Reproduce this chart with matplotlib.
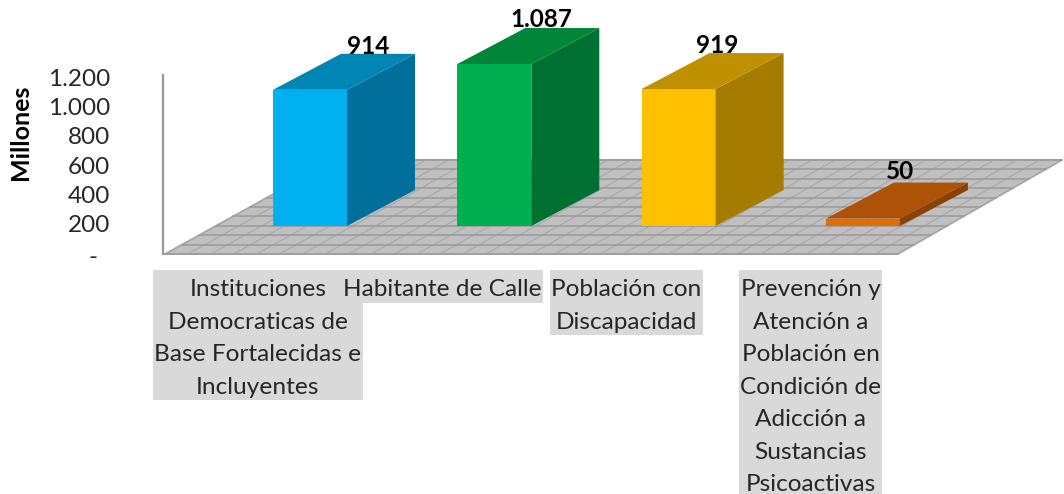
import matplotlib
matplotlib.use('Agg')
import matplotlib.pyplot as plt
import numpy as np
from matplotlib.patches import Polygon, Rectangle
from matplotlib.transforms import ScaledTranslation

plt.rcParams['font.family'] = ['Lato', 'DejaVu Sans']

# Values, in millions
categories = [
    'Instituciones\nDemocraticas de\nBase Fortalecidas e\nIncluyentes',
    'Habitante de Calle',
    'Población con\nDiscapacidad',
    'Prevención y\nAtención a\nPoblación en\nCondición de\nAdicción a\nSustancias\nPsicoactivas',
]
values = [914, 1087, 919, 50]
value_labels = ['914', '1.087', '919', '50']
y_ticks = [0, 200, 400, 600, 800, 1000, 1200]
y_tick_labels = ['-', '200', '400', '600', '800', '1.000', '1.200']

front_colors = ['#00B0F0', '#00B050', '#FFC000', '#E36C09']
side_colors = ['#006F9B', '#006F32', '#A67C00', '#8A4102']
top_colors = ['#0085B5', '#008539', '#BF9000', '#AE5207']

W, H = 1064, 494
PX_X = 184.3   # pixels per category
PX_Y = 0.149   # pixels per million

fig = plt.figure(figsize=(W / 100, H / 100), dpi=100)
ax = fig.add_axes([0, 0, 1, 1])
ax.set_xlim(-310 / PX_X, (W - 310) / PX_X)
ax.set_ylim(-(H - 226) / PX_Y, 226 / PX_Y)
for s in ['top', 'right', 'bottom']:
    ax.spines[s].set_visible(False)


def px(x, y):
    return (x - 310) / PX_X, (226 - y) / PX_Y


# Floor
fl, fr, bl, br = (165, 254), (898, 254), (335, 160), (1062, 160)
ax.add_patch(Polygon([px(*fl), px(*fr), px(*br), px(*bl)], fc='#C0C0C0', ec='#A6A6A6', lw=1.2))
n_rows, n_cols = 10, 32
for t in np.linspace(0, 1, n_cols + 1):
    a = np.add(fl, np.multiply(t, np.subtract(fr, fl)))
    b = np.add(bl, np.multiply(t, np.subtract(br, bl)))
    ax.plot(*zip(px(*a), px(*b)), color='#A8A8A8', lw=0.8)
for t in np.linspace(0, 1, n_rows + 1):
    a = np.add(fl, np.multiply(t, np.subtract(bl, fl)))
    b = np.add(fr, np.multiply(t, np.subtract(br, fr)))
    ax.plot(*zip(px(*a), px(*b)), color='#9C9C9C', lw=1.2)

# Bars
bar_w = 74 / PX_X
dep_x = 68 / PX_X
dep_y = 36 / PX_Y
label_shift = [58, 47, 39, 37]
label_lift = [0, 1, 0, 4]
for i, v in enumerate(values):
    x0 = i - bar_w / 2
    x1 = i + bar_w / 2
    ax.bar(i, v, width=bar_w, color=front_colors[i], zorder=3)
    ax.add_patch(Polygon([(x1, 0), (x1 + dep_x, dep_y), (x1 + dep_x, v + dep_y), (x1, v)],
                         fc=side_colors[i], ec='none', zorder=3))
    ax.add_patch(Polygon([(x0, v), (x1, v), (x1 + dep_x, v + dep_y), (x0 + dep_x, v + dep_y)],
                         fc=top_colors[i], ec='none', zorder=3))
    ax.text(i + label_shift[i] / PX_X, v + dep_y + label_lift[i] / PX_Y, value_labels[i],
            ha='center', va='baseline', fontsize=17.5, fontweight='bold', color='black', zorder=4)

# Axis line and tick labels
ax.spines['left'].set_position(('data', (163 - 310) / PX_X))
ax.spines['left'].set_color('#999999')
ax.spines['left'].set_linewidth(1.6)
base = (226 - 253.4) / PX_Y
scale = 0.147 / PX_Y
ax.set_yticks([base + t * scale for t in y_ticks])
ax.set_yticklabels(y_tick_labels, fontsize=17.5, color='#262626')
ax.tick_params(axis='y', length=0, pad=38)
ax.spines['left'].set_bounds((226 - 254) / PX_Y, (226 - 75) / PX_Y)
ax.set_xticks([])
dash = ax.get_yticklabels()[0]
dash.set_transform(dash.get_transform() + ScaledTranslation(-0.13, -0.02, fig.dpi_scale_trans))

fig.text(21 / W, 1 - 132 / H, 'Millones', rotation=90, ha='center', va='center',
         fontsize=18, fontweight='bold', color='black')

# Category labels on grey boxes
renderer = fig.canvas.get_renderer()
for i, c in enumerate(categories):
    t = ax.text(i - 52 / PX_X, (226 - 279) / PX_Y, c, ha='center', va='top', fontsize=17.6,
                color='#262626', linespacing=1.68, zorder=2)
    box = t.get_window_extent(renderer)
    n_lines = c.count('\n') + 1
    left = (box.x0 - 1 - 310) / PX_X
    width = (box.width + 2) / PX_X
    ax.add_patch(Rectangle((left, (226 - 270) / PX_Y), width, -n_lines * 32.6 / PX_Y,
                           fc='#D9D9D9', ec='none', zorder=1))

fig.savefig('out.png', dpi=100)
